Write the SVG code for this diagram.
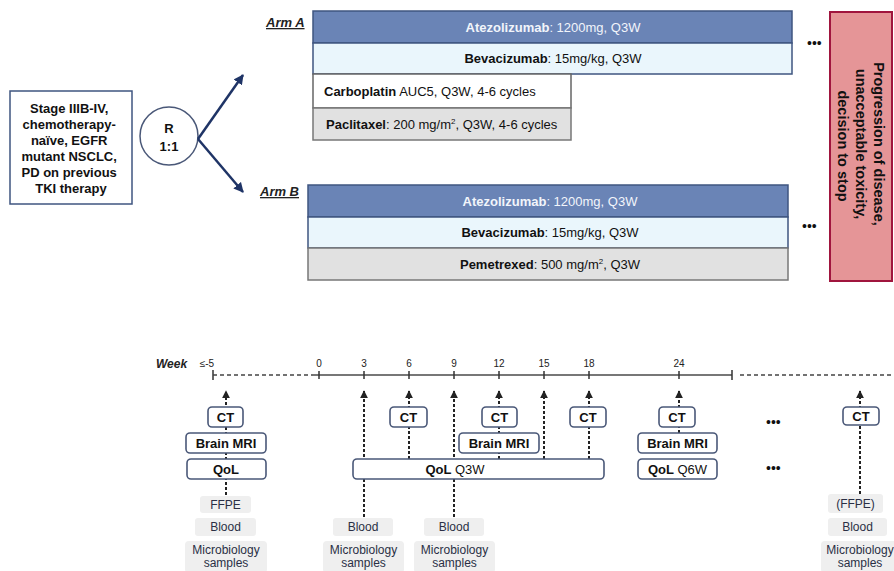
<svg xmlns="http://www.w3.org/2000/svg" width="894" height="571" viewBox="0 0 894 571">
<defs>
<marker id="bigArrow" viewBox="0 0 10 10" refX="9" refY="5" markerWidth="10" markerHeight="10" markerUnits="userSpaceOnUse" orient="auto">
<path d="M0,0 L10,5 L0,10 z" fill="#1f3466"/>
</marker>
<marker id="smArrow" viewBox="0 0 10 10" refX="9" refY="5" markerWidth="8" markerHeight="8" markerUnits="userSpaceOnUse" orient="auto">
<path d="M0,0 L10,5 L0,10 z" fill="#222"/>
</marker>
<style>
text{font-family:"Liberation Sans",Arial,sans-serif;}
.b{font-weight:bold;}
.t13{font-size:13px;fill:#111;}
.atz{fill:#6a84b6;stroke:#3f5580;stroke-width:1.5;}
.bev{fill:#eaf6fc;stroke:#3f5580;stroke-width:1.5;}
.wht{fill:#ffffff;stroke:#666;stroke-width:1.5;}
.gry{fill:#e1e1e1;stroke:#777;stroke-width:1.5;}
.wtxt{fill:#f2f5fb;font-size:13px;}
.arm{font-size:13px;font-weight:bold;font-style:italic;text-decoration:underline;fill:#222;}
.tbox{fill:#fff;stroke:#4a5878;stroke-width:1.6;}
.tl{font-size:13px;font-weight:bold;fill:#111;}
.lab{fill:#efefef;}
.ltxt{font-size:12px;fill:#2a2f45;}
.dash{stroke:#222;stroke-width:2;stroke-dasharray:3,2;fill:none;}
.tick{font-size:10px;fill:#222;}
.dots{font-size:14px;fill:#111;}
</style>
</defs>

<g id="patients">
<rect x="10" y="91" width="122" height="113" fill="#fff" stroke="#3f5580" stroke-width="1.5"/>
<text class="t13 b" text-anchor="middle">
<tspan x="71" y="113">Stage IIIB-IV,</tspan>
<tspan x="71" y="129">chemotherapy-</tspan>
<tspan x="71" y="145">naïve, EGFR</tspan>
<tspan x="71" y="161">mutant NSCLC,</tspan>
<tspan x="71" y="177">PD on previous</tspan>
<tspan x="71" y="193">TKI therapy</tspan>
</text>
</g>

<g id="randomize">
<circle cx="169" cy="136" r="29" fill="#fff" stroke="#4a5878" stroke-width="1.5"/>
<text class="t13 b" text-anchor="middle"><tspan x="169" y="133">R</tspan><tspan x="169" y="151">1:1</tspan></text>
</g>

<g id="connectors">
<line x1="198" y1="139" x2="243" y2="75" stroke="#1f3466" stroke-width="2.5" marker-end="url(#bigArrow)"/>
<line x1="198" y1="139" x2="243" y2="192" stroke="#1f3466" stroke-width="2.5" marker-end="url(#bigArrow)"/>
</g>

<g id="armA">
<text class="arm" x="266" y="27">Arm A</text>
<rect class="atz" x="313" y="11" width="479" height="32"/>
<text class="wtxt" x="553" y="32" text-anchor="middle"><tspan class="b">Atezolizumab</tspan>: 1200mg, Q3W</text>
<rect class="bev" x="313" y="43" width="479" height="31"/>
<text class="t13" x="553" y="63" text-anchor="middle"><tspan class="b">Bevacizumab</tspan>: 15mg/kg, Q3W</text>
<rect class="wht" x="313" y="74" width="258" height="34"/>
<text class="t13" x="324" y="96"><tspan class="b">Carboplatin</tspan> AUC5, Q3W, 4-6 cycles</text>
<rect class="gry" x="313" y="108" width="258" height="32"/>
<text class="t13" x="326" y="129"><tspan class="b">Paclitaxel</tspan>: 200 mg/m<tspan dy="-5" font-size="8">2</tspan><tspan dy="5">, Q3W, 4-6 cycles</tspan></text>
<text class="dots" x="807" y="48">•••</text>
</g>

<g id="armB">
<text class="arm" x="260" y="196">Arm B</text>
<rect class="atz" x="308" y="185" width="480" height="32"/>
<text class="wtxt" x="550" y="206" text-anchor="middle"><tspan class="b">Atezolizumab</tspan>: 1200mg, Q3W</text>
<rect class="bev" x="308" y="217" width="480" height="31"/>
<text class="t13" x="550" y="237" text-anchor="middle"><tspan class="b">Bevacizumab</tspan>: 15mg/kg, Q3W</text>
<rect class="gry" x="308" y="248" width="480" height="32"/>
<text class="t13" x="550" y="269" text-anchor="middle"><tspan class="b">Pemetrexed</tspan>: 500 mg/m<tspan dy="-5" font-size="8">2</tspan><tspan dy="5">, Q3W</tspan></text>
<text class="dots" x="802" y="231">•••</text>
</g>

<g id="stop">
<rect x="830" y="12" width="62" height="269" fill="#e59597" stroke="#a0153e" stroke-width="2"/>
<g transform="translate(860,146) rotate(90)">
<text class="b" font-size="14.5" fill="#111" text-anchor="middle">
<tspan x="0" y="-14">Progression of disease,</tspan>
<tspan x="0" y="4">unacceptable toxicity,</tspan>
<tspan x="0" y="22">decision to stop</tspan>
</text>
</g>
</g>

<g id="timeline">
<text x="156" y="368" font-size="12" font-weight="bold" font-style="italic" fill="#222">Week</text>
<text class="tick" x="207" y="367" text-anchor="middle">≤-5</text>
<line x1="213" y1="370" x2="213" y2="380" stroke="#333" stroke-width="1.5"/>
<line x1="213" y1="375" x2="313" y2="375" stroke="#444" stroke-width="1.5" stroke-dasharray="4,3"/>
<line x1="313" y1="375" x2="732" y2="375" stroke="#777" stroke-width="2"/>
<line x1="732" y1="370" x2="732" y2="380" stroke="#333" stroke-width="1.5"/>
<line x1="740" y1="375" x2="894" y2="375" stroke="#444" stroke-width="1.5" stroke-dasharray="4,3"/>
<g stroke="#333" stroke-width="1.5">
<line x1="319" y1="371" x2="319" y2="379"/>
<line x1="364" y1="371" x2="364" y2="379"/>
<line x1="409" y1="371" x2="409" y2="379"/>
<line x1="454" y1="371" x2="454" y2="379"/>
<line x1="499" y1="371" x2="499" y2="379"/>
<line x1="544" y1="371" x2="544" y2="379"/>
<line x1="589" y1="371" x2="589" y2="379"/>
<line x1="679" y1="371" x2="679" y2="379"/>
</g>
<g class="tick" text-anchor="middle">
<text x="319" y="367">0</text>
<text x="364" y="367">3</text>
<text x="409" y="367">6</text>
<text x="454" y="367">9</text>
<text x="499" y="367">12</text>
<text x="544" y="367">15</text>
<text x="589" y="367">18</text>
<text x="679" y="367">24</text>
</g>
</g>

<g id="timeline-connectors">
<line class="dash" x1="226" y1="495" x2="226" y2="391" marker-end="url(#smArrow)"/>
<line class="dash" x1="364" y1="517" x2="364" y2="391" marker-end="url(#smArrow)"/>
<line class="dash" x1="409" y1="459" x2="409" y2="391" marker-end="url(#smArrow)"/>
<line class="dash" x1="454" y1="517" x2="454" y2="391" marker-end="url(#smArrow)"/>
<line class="dash" x1="499" y1="459" x2="499" y2="391" marker-end="url(#smArrow)"/>
<line class="dash" x1="544" y1="459" x2="544" y2="391" marker-end="url(#smArrow)"/>
<line class="dash" x1="589" y1="459" x2="589" y2="391" marker-end="url(#smArrow)"/>
<line class="dash" x1="679" y1="433" x2="679" y2="391" marker-end="url(#smArrow)"/>
<line class="dash" x1="860" y1="494" x2="860" y2="391" marker-end="url(#smArrow)"/>
</g>

<g id="qol-q3w">
<rect class="tbox" x="353" y="459" width="251" height="20" rx="4"/>
<text class="tl" x="455" y="474" text-anchor="middle">QoL <tspan font-weight="normal">Q3W</tspan></text>
</g>

<g id="wk-5">
<rect class="tbox" x="208" y="407" width="35" height="20" rx="4"/>
<text class="tl" x="225.5" y="422" text-anchor="middle">CT</text>
<rect class="tbox" x="186" y="433" width="80" height="20" rx="4"/>
<text class="tl" x="226" y="448" text-anchor="middle">Brain MRI</text>
<rect class="tbox" x="187" y="459" width="79" height="20" rx="4"/>
<text class="tl" x="226" y="474" text-anchor="middle">QoL</text>
<rect class="lab" x="200" y="496" width="51" height="17" rx="3"/>
<text class="ltxt" x="225.5" y="509" text-anchor="middle">FFPE</text>
<rect class="lab" x="195" y="518" width="61" height="18" rx="3"/>
<text class="ltxt" x="225.5" y="531" text-anchor="middle">Blood</text>
<rect class="lab" x="185" y="541" width="82" height="32" rx="4"/>
<text class="ltxt" text-anchor="middle"><tspan x="226" y="554">Microbiology</tspan><tspan x="226" y="567">samples</tspan></text>
</g>

<g id="wk3">
<rect class="lab" x="333" y="518" width="60" height="18" rx="3"/>
<text class="ltxt" x="363" y="531" text-anchor="middle">Blood</text>
<rect class="lab" x="323" y="541" width="81" height="32" rx="4"/>
<text class="ltxt" text-anchor="middle"><tspan x="363.5" y="554">Microbiology</tspan><tspan x="363.5" y="567">samples</tspan></text>
</g>

<g id="wk6">
<rect class="tbox" x="390" y="407" width="37" height="20" rx="4"/>
<text class="tl" x="408.5" y="422" text-anchor="middle">CT</text>
</g>

<g id="wk9">
<rect class="lab" x="424" y="518" width="60" height="18" rx="3"/>
<text class="ltxt" x="454" y="531" text-anchor="middle">Blood</text>
<rect class="lab" x="414" y="541" width="81" height="32" rx="4"/>
<text class="ltxt" text-anchor="middle"><tspan x="454.5" y="554">Microbiology</tspan><tspan x="454.5" y="567">samples</tspan></text>
</g>

<g id="wk12">
<rect class="tbox" x="482" y="407" width="35" height="20" rx="4"/>
<text class="tl" x="499.5" y="422" text-anchor="middle">CT</text>
<rect class="tbox" x="459" y="433" width="80" height="20" rx="4"/>
<text class="tl" x="499" y="448" text-anchor="middle">Brain MRI</text>
</g>

<g id="wk18">
<rect class="tbox" x="570" y="407" width="36" height="20" rx="4"/>
<text class="tl" x="588" y="422" text-anchor="middle">CT</text>
</g>

<g id="wk24">
<rect class="tbox" x="659" y="407" width="36" height="20" rx="4"/>
<text class="tl" x="677" y="422" text-anchor="middle">CT</text>
<rect class="tbox" x="638" y="433" width="79" height="20" rx="4"/>
<text class="tl" x="677.5" y="448" text-anchor="middle">Brain MRI</text>
<rect class="tbox" x="638" y="459" width="79" height="20" rx="4"/>
<text class="tl" x="677.5" y="474" text-anchor="middle">QoL <tspan font-weight="normal">Q6W</tspan></text>
</g>

<g id="ellipses">
<text class="dots" x="766" y="427">•••</text>
<text class="dots" x="766" y="473">•••</text>
</g>

<g id="wk-end">
<rect class="tbox" x="843" y="407" width="36" height="18" rx="4"/>
<text class="tl" x="861" y="421" text-anchor="middle">CT</text>
<rect class="lab" x="828" y="494" width="55" height="19" rx="3"/>
<text class="ltxt" x="855.5" y="508" text-anchor="middle">(FFPE)</text>
<rect class="lab" x="828" y="518" width="59" height="18" rx="3"/>
<text class="ltxt" x="857.5" y="531" text-anchor="middle">Blood</text>
<rect class="lab" x="821" y="541" width="80" height="32" rx="4"/>
<text class="ltxt" text-anchor="middle"><tspan x="860" y="554">Microbiology</tspan><tspan x="860" y="567">samples</tspan></text>
</g>
</svg>
